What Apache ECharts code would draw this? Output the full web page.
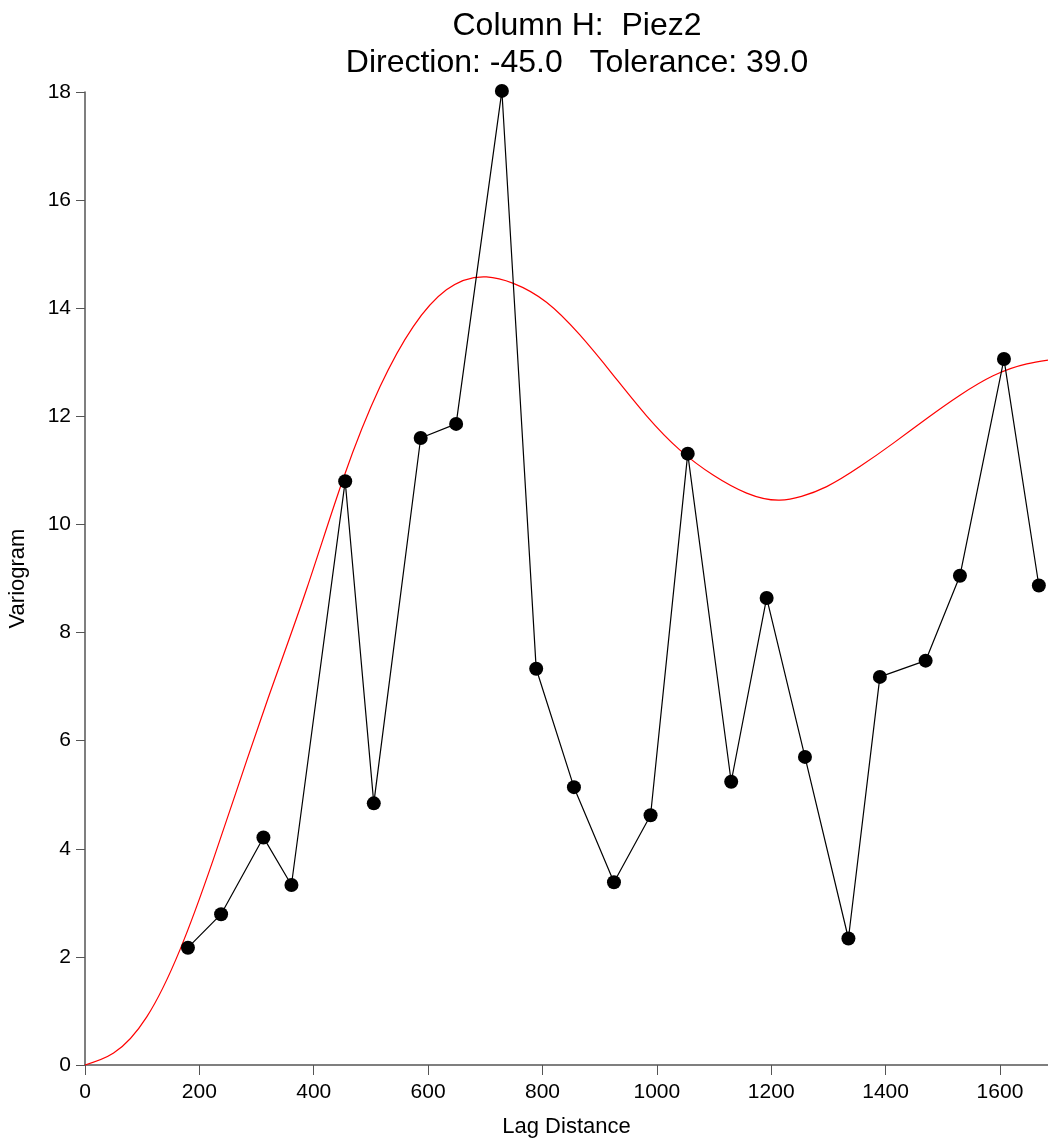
<!DOCTYPE html>
<html>
<head>
<meta charset="utf-8">
<script src="https://cdn.jsdelivr.net/npm/echarts@6/dist/echarts.min.js"></script>
<style>
html,body{margin:0;padding:0;background:#fff;}
#chart{width:1048px;height:1138px;}
</style>
</head>
<body>
<div id="chart"></div>
<script>
// Experimental variogram points (lag distance, variogram)
const lagDistance = [180, 238, 312, 361, 455, 505, 587, 649, 729, 789, 855, 925, 989, 1054, 1130, 1192, 1259, 1335, 1390, 1470, 1530, 1607, 1668];
const variogram   = [2.17, 2.79, 4.21, 3.33, 10.80, 4.84, 11.60, 11.86, 18.02, 7.33, 5.14, 3.38, 4.62, 11.31, 5.24, 8.64, 5.70, 2.34, 7.18, 7.48, 9.05, 13.06, 8.87];

// Model curve (red)
const modelLag = [0, 50, 108, 166, 224, 283, 320, 388, 452, 516, 574, 632, 702, 749, 807, 865, 924, 982, 1040, 1099, 1157, 1215, 1253, 1297, 1355, 1413, 1472, 1530, 1588, 1647, 1684];
const modelVal = [0, 0.22, 0.89, 2.13, 3.79, 5.64, 6.78, 8.82, 10.86, 12.55, 13.66, 14.34, 14.58, 14.46, 14.11, 13.51, 12.76, 12.01, 11.38, 10.91, 10.58, 10.45, 10.52, 10.70, 11.07, 11.50, 11.96, 12.39, 12.75, 12.97, 13.04];

// Tick labels
const xTicks = [0, 200, 400, 600, 800, 1000, 1200, 1400, 1600];
const yTicks = [0, 2, 4, 6, 8, 10, 12, 14, 16, 18];

const titleText = 'Column H:  Piez2\nDirection: -45.0   Tolerance: 39.0';
const xName = 'Lag Distance';
const yName = 'Variogram';

const FONT = '"Liberation Sans", Arial, sans-serif';

// Draw the model curve as a smooth spline through the read points,
// positioned with the chart's own axes (api.coord).
function renderModel(params, api) {
  if (params.dataIndex !== 0) return null;
  const p = modelLag.map((x, i) => api.coord([x, modelVal[i]]));
  const n = p.length;
  const h = [], d = [];
  for (let i = 0; i < n - 1; i++) {
    h[i] = p[i + 1][0] - p[i][0];
    d[i] = (p[i + 1][1] - p[i][1]) / h[i];
  }
  // natural cubic spline: solve for second derivatives
  const M = new Array(n).fill(0);
  const a = [], b = [], c = [], r = [];
  for (let i = 1; i < n - 1; i++) {
    a[i] = h[i - 1]; b[i] = 2 * (h[i - 1] + h[i]); c[i] = h[i]; r[i] = 6 * (d[i] - d[i - 1]);
  }
  for (let i = 2; i < n - 1; i++) {
    const w = a[i] / b[i - 1];
    b[i] -= w * c[i - 1];
    r[i] -= w * r[i - 1];
  }
  for (let i = n - 2; i >= 1; i--) {
    M[i] = (r[i] - (i < n - 2 ? c[i] * M[i + 1] : 0)) / b[i];
  }
  const m = [];
  for (let i = 0; i < n - 1; i++) m[i] = d[i] - h[i] * (2 * M[i] + M[i + 1]) / 6;
  m[n - 1] = d[n - 2] + h[n - 2] * (M[n - 2] + 2 * M[n - 1]) / 6;
  let path = 'M' + p[0][0] + ' ' + p[0][1];
  for (let i = 0; i < n - 1; i++) {
    const hh = h[i] / 3;
    path += ' C' + (p[i][0] + hh) + ' ' + (p[i][1] + m[i] * hh) + ' ' +
            (p[i + 1][0] - hh) + ' ' + (p[i + 1][1] - m[i + 1] * hh) + ' ' +
            p[i + 1][0] + ' ' + p[i + 1][1];
  }
  return {
    type: 'path',
    shape: {pathData: path},
    style: {fill: null, stroke: '#ff0000', lineWidth: 1.2}
  };
}

const chart = echarts.init(document.getElementById('chart'), null, {renderer: 'canvas'});
chart.setOption({
  animation: false,
  backgroundColor: '#ffffff',
  title: {
    text: titleText,
    left: 572,
    top: 3,
    textAlign: 'center',
    textStyle: {fontFamily: FONT, fontSize: 32, fontWeight: 'normal', color: '#000', lineHeight: 37}
  },
  grid: {left: 85, right: 0, top: 92, bottom: 73, containLabel: false, outerBoundsMode: 'none'},
  xAxis: {
    type: 'value',
    min: 0,
    max: 1684,
    interval: 200,
    name: xName,
    nameLocation: 'middle',
    nameGap: 51,
    nameTextStyle: {fontFamily: FONT, fontSize: 22, color: '#000'},
    axisLine: {show: true, lineStyle: {color: '#555', width: 1.5}},
    axisTick: {show: true, length: 10, customValues: xTicks, lineStyle: {color: '#555', width: 1}},
    axisLabel: {customValues: xTicks, margin: 17, fontFamily: FONT, fontSize: 21, color: '#000', formatter: v => String(v)},
    splitLine: {show: false}
  },
  yAxis: {
    type: 'value',
    min: 0,
    max: 18,
    interval: 2,
    name: yName,
    nameLocation: 'middle',
    nameGap: 56,
    nameTextStyle: {fontFamily: FONT, fontSize: 22, color: '#000'},
    axisLine: {show: true, lineStyle: {color: '#555', width: 1.5}},
    axisTick: {show: true, length: 9, customValues: yTicks, lineStyle: {color: '#555', width: 1}},
    axisLabel: {customValues: yTicks, margin: 14, fontFamily: FONT, fontSize: 21, color: '#000', formatter: v => String(v)},
    splitLine: {show: false}
  },
  series: [
    {
      type: 'custom',
      data: modelLag.map((x, i) => [x, modelVal[i]]),
      encode: {x: 0, y: 1},
      renderItem: renderModel,
      clip: false,
      silent: true,
      z: 2
    },
    {
      type: 'line',
      data: lagDistance.map((x, i) => [x, variogram[i]]),
      symbol: 'circle',
      symbolSize: 14,
      showSymbol: true,
      clip: false,
      itemStyle: {color: '#000'},
      lineStyle: {color: '#000', width: 1.2},
      z: 3
    }
  ]
});
</script>
</body>
</html>
